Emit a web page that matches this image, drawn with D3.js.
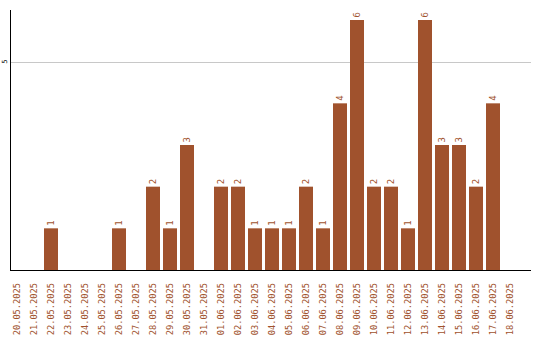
<!DOCTYPE html>
<html>
<head>
<meta charset="utf-8">
<script src="https://cdn.jsdelivr.net/npm/d3@7"></script>
<style>
  body { margin: 0; background: #fff; }
  text { font-family: "DejaVu Sans Mono", monospace; }
</style>
</head>
<body>
<svg id="chart" width="540" height="340"></svg>
<script>
const dates = ["20.05.2025", "21.05.2025", "22.05.2025", "23.05.2025", "24.05.2025", "25.05.2025",
  "26.05.2025", "27.05.2025", "28.05.2025", "29.05.2025", "30.05.2025", "31.05.2025",
  "01.06.2025", "02.06.2025", "03.06.2025", "04.06.2025", "05.06.2025", "06.06.2025",
  "07.06.2025", "08.06.2025", "09.06.2025", "10.06.2025", "11.06.2025", "12.06.2025",
  "13.06.2025", "14.06.2025", "15.06.2025", "16.06.2025", "17.06.2025", "18.06.2025"];
const counts = [0, 0, 1, 0, 0, 0, 1, 0, 2, 1, 3, 0, 2, 2, 1, 1, 1, 2, 1, 4, 6, 2, 2, 1, 6, 3, 3, 2, 4, 0];
const yTicks = [5];

const data = dates.map((d, i) => ({ date: d, value: counts[i] }));
const barColor = '#a0522d';

const plotLeft = 10, plotRight = 531, plotTop = 10, plotBottom = 270;
const svg = d3.select('#chart');

const x = d3.scaleBand()
  .domain(dates)
  .range([8.5, 518.5])
  .paddingInner(3 / 17)
  .paddingOuter(1.5 / 17);

const y = d3.scaleLinear()
  .domain([0, d3.max(counts) * 1.04])
  .range([plotBottom, plotTop]);

// grid line
svg.append('g')
  .selectAll('line')
  .data(yTicks)
  .enter().append('line')
  .attr('x1', plotLeft)
  .attr('x2', plotRight)
  .attr('y1', d => Math.round(y(d)) + 0.5)
  .attr('y2', d => Math.round(y(d)) + 0.5)
  .attr('stroke', '#c8c8c8');

// y tick labels
svg.append('g')
  .selectAll('text')
  .data(yTicks)
  .enter().append('text')
  .attr('transform', d => `translate(5,${y(d)}) rotate(-90)`)
  .attr('text-anchor', 'middle')
  .attr('dy', '0.35em')
  .attr('font-size', 7)
  .attr('fill', '#000')
  .text(d => d);

// bars
svg.append('g')
  .selectAll('rect')
  .data(data.filter(d => d.value > 0))
  .enter().append('rect')
  .attr('x', d => x(d.date))
  .attr('y', d => y(d.value))
  .attr('width', x.bandwidth())
  .attr('height', d => y(0) - y(d.value))
  .attr('fill', barColor);

// value labels
svg.append('g')
  .selectAll('text')
  .data(data.filter(d => d.value > 0))
  .enter().append('text')
  .attr('transform', d => `translate(${x(d.date) + x.bandwidth() / 2},${y(d.value) - 2.5}) rotate(-90)`)
  .attr('dy', '0.35em')
  .attr('font-size', 9)
  .attr('fill', barColor)
  .text(d => d.value);

// axes lines
svg.append('line')
  .attr('x1', plotLeft + 0.5).attr('x2', plotLeft + 0.5)
  .attr('y1', plotTop).attr('y2', plotBottom + 1)
  .attr('stroke', '#000');
svg.append('line')
  .attr('x1', plotLeft).attr('x2', plotRight)
  .attr('y1', plotBottom + 0.5).attr('y2', plotBottom + 0.5)
  .attr('stroke', '#000');

// x labels
svg.append('g')
  .selectAll('text')
  .data(dates)
  .enter().append('text')
  .attr('transform', d => `translate(${x(d) + x.bandwidth() / 2},283) rotate(-90)`)
  .attr('text-anchor', 'end')
  .attr('dy', '0.35em')
  .attr('font-size', 8.7)
  .attr('fill', barColor)
  .text(d => d);
</script>
</body>
</html>
